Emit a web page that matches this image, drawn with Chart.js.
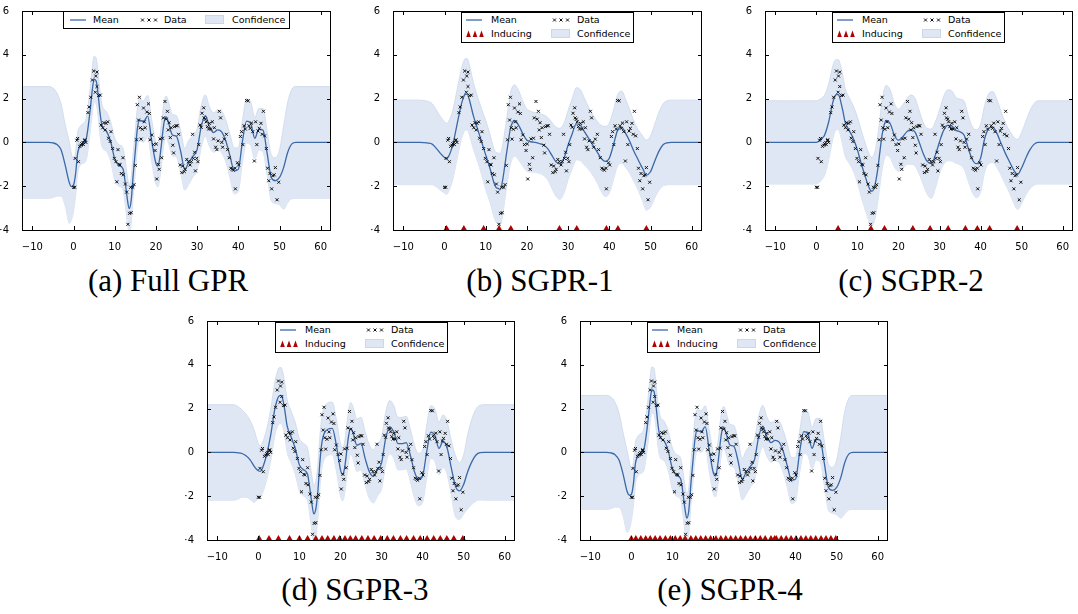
<!DOCTYPE html>
<html>
<head>
<meta charset="utf-8">
<script src="https://cdn.jsdelivr.net/npm/chart.js@4.4.0/dist/chart.umd.min.js"></script>
<style>
body { margin: 0; background: #fff; width: 1078px; height: 614px; position: relative; overflow: hidden; font-family: "DejaVu Sans", sans-serif; }
.panel { position: absolute; }
.legend { position: absolute; box-sizing: border-box; border: 1px solid #000; background: #fff; font-size: 9.5px; color: #000; }
.legend span { position: absolute; line-height: 12px; white-space: nowrap; }
.legend svg { position: absolute; }
.cap { position: absolute; font-family: "Liberation Serif", serif; font-size: 31px; text-align: center; width: 300px; line-height: 34px; color: #000; }
</style>
</head>
<body>
<div class="panel" id="pa" style="left:0px;top:0px"><canvas id="ca" width="336" height="250"></canvas></div>
<div class="panel" id="pb" style="left:371px;top:0px"><canvas id="cb" width="336" height="250"></canvas></div>
<div class="panel" id="pc" style="left:743px;top:0px"><canvas id="cc" width="335" height="250"></canvas></div>
<div class="panel" id="pd" style="left:185px;top:310px"><canvas id="cd" width="335" height="250"></canvas></div>
<div class="panel" id="pe" style="left:558px;top:310px"><canvas id="ce" width="335" height="250"></canvas></div>

<div class="cap" style="left:18px;top:264px">(a) Full GPR</div>
<div class="cap" style="left:390px;top:264px">(b) SGPR-1</div>
<div class="cap" style="left:761px;top:264px">(c) SGPR-2</div>
<div class="cap" style="left:205px;top:573px">(d) SGPR-3</div>
<div class="cap" style="left:580px;top:573px">(e) SGPR-4</div>

<script>
// ticks
const xTicks = [-10, 0, 10, 20, 30, 40, 50, 60]
const yTicks = [-4, -2, 0, 2, 4, 6]

// observed data (same for all panels)
const dataX = [
  0, 0.3, 0.4, 0.8, 1.0, 1.2, 1.5, 1.8, 2.0, 2.3,
  2.4, 2.7, 2.8, 3.0, 3.5, 3.8, 4.2, 4.6, 4.9, 5.3,
  5.4, 5.7, 5.7, 6.1, 6.5, 6.7, 7.1, 7.4, 7.7, 7.9,
  8.3, 8.5, 8.9, 9.1, 9.5, 9.9, 10.3, 10.5, 10.8, 11.1,
  11.3, 11.6, 12.0, 12.1, 12.6, 12.9, 13.2, 13.6, 14.0, 13.9,
  14.4, 14.7, 15.0, 15.3, 15.5, 15.8, 16.0, 16.2, 16.4, 16.7,
  17.0, 17.2, 17.4, 17.8, 18.2, 18.4, 18.6, 19.0, 19.4, 19.8,
  20.1, 20.2, 20.6, 20.8, 21.0, 21.4, 21.6, 21.8, 22.2, 22.5,
  22.8, 23.0, 23.2, 23.5, 23.7, 24.1, 24.3, 24.5, 24.9, 25.2,
  25.5, 25.9, 26.3, 26.5, 26.9, 27.1, 27.5, 27.9, 28.3, 28.6,
  28.9, 29.1, 29.4, 29.6, 29.9, 30.2, 30.4, 30.7, 31.0, 31.2,
  31.6, 31.7, 32.0, 32.2, 32.5, 32.8, 33.0, 33.3, 33.7, 34.0,
  34.2, 34.5, 34.8, 35.1, 35.4, 35.7, 36.0, 36.2, 36.6, 37.1,
  37.4, 37.8, 38.2, 38.5, 38.8, 39.2, 39.3, 39.8, 40.1, 40.5,
  40.8, 41.1, 41.4, 41.7, 42.0, 42.4, 42.6, 42.9, 43.2, 43.5,
  43.9, 44.2, 44.5, 44.8, 45.1, 45.5, 45.8, 46.1, 46.4, 46.8,
  47.1, 47.4, 47.7, 48.1, 48.4, 48.7, 49.0, 49.4, 49.8
]
const dataY = [
  -2.05, -2.05, -0.73, 0.1, 0.18, -0.88, -0.18, -0.13, -0.06, 0.0,
  -0.1, 0.09, 0.12, 0.0, 1.36, 1.62, 2.06, 2.85, 3.26, 2.29,
  3.03, 3.21, 2.55, 2.14, 2.16, 0.79, 0.67, 0.9, 0.57, 0.87,
  0.94, 0.19, 0.04, 0.49, -0.28, -0.73, -0.88, -1.8, -0.33, -1.0,
  -1.03, -1.42, -0.7, -1.48, -1.9, -2.27, -3.74, -3.24, -3.21, -2.05,
  -2.05, -1.93, -1.05, 0.12, 1.72, 1.02, 2.06, 0.67, 0.15, 0.6,
  1.57, 0.94, 0.67, 1.39, 1.76, 1.32, 0.12, 0.34, -0.1, -0.37,
  -0.07, -1.67, -1.0, -1.23, 0.16, -0.7, 0.19, 1.12, 1.87, 1.06,
  1.42, 0.57, 0.9, 0.22, 0.67, -0.13, -0.48, 0.72, 0.76, 0.76,
  0.37, -1.03, -1.38, -1.08, -1.33, -1.23, -0.78, -0.88, -1.03, -0.88,
  0.37, -0.73, -0.45, -1.3, -0.73, -0.88, -0.1, 0.79, 0.69, 1.33,
  1.58, 1.12, 1.06, 0.94, 0.72, 0.61, 0.87, 0.61, 0.94, 0.16,
  0.67, -0.22, -0.33, 0.07, 1.42, 1.12, 0.0, -0.22, 0.15, 0.37,
  -0.33, -0.7, -1.18, -1.23, -1.27, -1.18, -2.12, -0.93, -1.03, 0.27,
  0.49, -0.1, 0.76, 0.61, 1.91, 1.9, 0.76, 0.64, 0.88, 0.49,
  -0.85, 0.94, -0.1, 0.52, 0.64, 0.87, 0.37, 1.42, 0.3, -0.28,
  -1.18, -1.75, -1.42, -2.12, -1.52, -1.48, -1.15, -2.62, -1.82
]

// prediction grid
const gridX = [
  -12.5, -7, -6, -5, -4, -3, -2, -1, -0.5, 0,
  0.5, 1, 1.5, 2, 3, 4, 4.5, 5, 5.5, 6, 6.5, 7,
  8, 9, 10, 11, 12, 12.5, 13, 13.5, 14, 14.5, 15, 15.5, 16,
  17, 18, 19, 20, 20.5, 21, 22, 22.5, 23, 24, 25, 26,
  27, 28, 29, 30, 31, 32, 33, 34, 35, 36, 37, 38, 39, 40,
  41, 42, 43, 44, 45, 46, 47, 48, 49, 50,
  51, 52, 53, 54, 55, 56, 62.5
]

// (a) Full GPR
const meanFull = [
  0, 0, 0, -0.02, -0.1, -0.35, -1.05, -1.85, -2.02, -1.95,
  -1.45, -0.5, -0.2, -0.08, 0.1, 1.4, 2.3, 2.88, 2.8, 2.14, 1.25, 0.72,
  0.5, 0.05, -0.75, -1.05, -1.2, -1.75, -2.5, -3.02, -2.65, -1.45, -0.4, 0.62, 1.02,
  0.95, 1.2, 0.05, -0.95, -1.08, -0.62, 0.94, 1.17, 0.94, 0.34, 0.27, -0.4,
  -1.23, -0.9, -0.63, -0.33, 0.72, 1.22, 0.72, 0.45, 0.57, 0.47, 0.04, -0.63, -1.3, -1.23,
  0.04, 0.97, 0.87, 0.19, 0.6, 0.55, -0.5, -1.6, -1.75, -1.6,
  -1.15, -0.45, -0.07, 0, 0, 0, 0
]
const confFull = [
  2.55, 2.55, 2.55, 2.5, 2.35, 2.1, 1.85, 1.85, 1.5, 1.2,
  1.0, 0.95, 0.9, 0.9, 0.95, 1.0, 1.05, 1.05, 1.05, 1.0, 1.0, 0.95,
  0.9, 0.9, 0.95, 0.95, 0.95, 1.0, 1.05, 1.1, 1.05, 1.0, 0.95, 0.95, 0.95,
  0.95, 0.95, 0.95, 0.95, 0.95, 0.95, 0.95, 0.95, 0.95, 0.95, 0.95, 0.95,
  0.95, 1.0, 0.95, 0.95, 0.95, 0.95, 0.9, 0.9, 0.9, 0.95, 0.95, 1.0, 1.05, 1.0,
  0.95, 1.0, 1.0, 0.95, 0.95, 1.0, 1.0, 1.05, 1.05, 1.25,
  1.9, 2.3, 2.5, 2.55, 2.55, 2.55, 2.55
]

// (b) SGPR-1
const mean1 = [
  0, 0, 0, -0.01, -0.03, -0.08, -0.27, -0.5, -0.6, -0.69,
  -0.75, -0.64, -0.42, -0.12, 0.78, 1.67, 2.0, 2.19, 2.2, 1.97, 1.6, 1.22,
  0.63, 0.03, -0.57, -1.16, -1.84, -2.05, -2.1, -2.15, -1.84, -1.25, -0.57, 0.05, 0.63,
  1.0, 0.78, 0.4, 0.1, 0.06, 0.03, 0, -0.02, -0.05, -0.12, -0.27, -0.57,
  -0.87, -0.98, -0.72, -0.12, 0.4, 0.85, 0.78, 0.48, 0.18, -0.12, -0.42, -0.72, -0.87, -0.72,
  -0.12, 0.55, 0.7, 0.4, 0.03, -0.42, -0.79, -1.16, -1.49, -1.34,
  -0.87, -0.42, -0.12, -0.02, 0, 0, 0
]
const conf1 = [
  1.93, 1.93, 1.93, 1.92, 1.9, 1.85, 1.76, 1.68, 1.65, 1.63,
  1.62, 1.6, 1.59, 1.58, 1.58, 1.6, 1.62, 1.63, 1.63, 1.6, 1.56, 1.52,
  1.48, 1.5, 1.58, 1.55, 1.55, 1.58, 1.62, 1.63, 1.62, 1.58, 1.55, 1.58, 1.62,
  1.63, 1.58, 1.48, 1.42, 1.4, 1.38, 1.36, 1.36, 1.36, 1.38, 1.42, 1.5,
  1.58, 1.62, 1.6, 1.58, 1.6, 1.65, 1.62, 1.52, 1.42, 1.38, 1.4, 1.5, 1.6, 1.6,
  1.58, 1.62, 1.65, 1.55, 1.45, 1.38, 1.38, 1.48, 1.6, 1.62,
  1.68, 1.78, 1.87, 1.92, 1.93, 1.93, 1.93
]
const inducing1 = [0.5, 4.7, 9.5, 13.25, 16.1, 27.9, 32.1, 39.3, 42.1, 49.0]

// (c) SGPR-2
const mean2 = [
  0, 0, 0, 0, 0, 0, 0, 0, 0, 0,
  0.04, 0.1, 0.2, 0.33, 0.93, 1.82, 2.1, 2.19, 2.15, 1.82, 1.4, 0.93,
  0.55, 0.18, -0.34, -1.01, -1.61, -1.9, -2.13, -2.24, -2.13, -1.75, -1.16, -0.4, 0.33,
  1.0, 0.85, 0.33, 0.1, 0.15, 0.25, 0.48, 0.55, 0.58, 0.48, 0.03, -0.49,
  -0.87, -0.97, -0.57, 0.03, 0.55, 0.78, 0.75, 0.55, 0.48, 0.33, -0.27, -0.79, -0.97, -0.72,
  0.18, 0.63, 0.7, 0.4, -0.05, -0.49, -0.87, -1.24, -1.46, -1.16,
  -0.72, -0.34, -0.09, 0, 0, 0, 0
]
const conf2 = [
  1.9, 1.9, 1.9, 1.9, 1.9, 1.9, 1.9, 1.9, 1.9, 1.9,
  1.89, 1.88, 1.86, 1.83, 1.74, 1.66, 1.63, 1.6, 1.6, 1.6, 1.58, 1.55,
  1.5, 1.48, 1.5, 1.52, 1.52, 1.53, 1.55, 1.55, 1.55, 1.54, 1.52, 1.55, 1.58,
  1.6, 1.55, 1.45, 1.42, 1.43, 1.45, 1.5, 1.55, 1.58, 1.55, 1.45, 1.42,
  1.5, 1.58, 1.52, 1.45, 1.55, 1.62, 1.6, 1.5, 1.5, 1.55, 1.5, 1.5, 1.55, 1.55,
  1.52, 1.6, 1.62, 1.55, 1.45, 1.4, 1.42, 1.5, 1.6, 1.62,
  1.68, 1.78, 1.86, 1.9, 1.9, 1.9, 1.9
]
const inducing2 = [5.3, 13.3, 16.6, 23.5, 27.7, 32.1, 36.3, 39.2, 42.2, 48.9]

// (d) SGPR-3
const mean3 = [
  0, 0, 0, -0.02, -0.05, -0.15, -0.34, -0.64, -0.76, -0.84,
  -0.87, -0.72, -0.45, -0.12, 0.78, 1.97, 2.35, 2.57, 2.6, 2.39, 1.85, 1.22,
  0.7, 0.18, -0.57, -0.79, -1.01, -1.61, -2.28, -2.81, -2.58, -1.76, -0.42, 0.48, 0.85,
  1.07, 1.1, 0.33, -0.79, -1.01, -0.72, 0.78, 1.1, 0.93, 0.33, 0.4, -0.27,
  -0.87, -1.09, -0.79, -0.49, 0.63, 1.15, 0.93, 0.4, 0.4, 0.45, -0.12, -0.87, -1.24, -1.09,
  0.03, 0.93, 0.78, 0.18, 0.51, 0.18, -0.72, -1.54, -1.76, -1.46,
  -0.87, -0.42, -0.12, -0.01, 0, 0, 0
]
const conf3 = [
  2.18, 2.18, 2.18, 2.12, 2.0, 1.9, 1.8, 1.65, 1.45, 1.25,
  1.18, 1.15, 1.15, 1.15, 1.18, 1.22, 1.25, 1.28, 1.28, 1.25, 1.22, 1.2,
  1.18, 1.18, 1.2, 1.2, 1.2, 1.22, 1.25, 1.3, 1.28, 1.22, 1.18, 1.18, 1.18,
  1.2, 1.2, 1.18, 1.2, 1.2, 1.18, 1.18, 1.18, 1.18, 1.2, 1.2, 1.22,
  1.22, 1.22, 1.2, 1.18, 1.2, 1.22, 1.2, 1.2, 1.2, 1.2, 1.2, 1.2, 1.2, 1.2,
  1.2, 1.2, 1.2, 1.2, 1.2, 1.2, 1.25, 1.4, 1.3, 1.35,
  1.7, 1.95, 2.1, 2.16, 2.18, 2.18, 2.18
]
const inducing3 = [
  0.2, 2.6, 4.9, 7.6, 10.0, 12.0, 14.0, 15.5, 16.9, 18.4,
  19.8, 21.1, 22.4, 23.7, 25.2, 26.7, 28.2, 29.8, 31.4, 32.9,
  34.6, 36.1, 37.8, 39.4, 41.1, 42.7, 44.3, 45.9, 47.6, 49.8
]

// (e) SGPR-4
const mean4 = [
  0, 0, 0, -0.02, -0.1, -0.35, -1.0, -1.8, -1.95, -1.92,
  -1.45, -0.5, -0.2, -0.08, 0.1, 1.35, 2.25, 2.85, 2.8, 2.15, 1.25, 0.72,
  0.52, 0.06, -0.75, -1.05, -1.2, -1.75, -2.5, -3.0, -2.65, -1.45, -0.4, 0.6, 1.0,
  0.95, 1.18, 0.05, -0.95, -1.08, -0.62, 0.92, 1.15, 0.92, 0.34, 0.27, -0.4,
  -1.22, -0.9, -0.63, -0.33, 0.7, 1.2, 0.72, 0.45, 0.55, 0.47, 0.04, -0.63, -1.28, -1.22,
  0.04, 0.95, 0.85, 0.19, 0.6, 0.55, -0.5, -1.6, -1.73, -1.6,
  -1.15, -0.45, -0.07, 0, 0, 0, 0
]
const conf4 = [
  2.6, 2.6, 2.6, 2.55, 2.4, 2.15, 1.9, 1.85, 1.55, 1.2,
  1.0, 0.95, 0.9, 0.9, 0.95, 1.0, 1.05, 1.05, 1.05, 1.0, 1.0, 0.95,
  0.9, 0.9, 0.95, 0.95, 0.95, 1.0, 1.05, 1.1, 1.05, 1.0, 0.95, 0.95, 0.95,
  0.95, 0.95, 0.95, 0.95, 0.95, 0.95, 0.95, 0.95, 0.95, 0.95, 0.95, 0.95,
  0.95, 1.0, 0.95, 0.95, 0.95, 0.95, 0.9, 0.9, 0.9, 0.95, 0.95, 1.0, 1.05, 1.0,
  0.95, 1.0, 1.0, 0.95, 0.95, 1.0, 1.0, 1.05, 1.05, 1.25,
  1.85, 2.35, 2.55, 2.6, 2.6, 2.6, 2.6
]
const inducing4 = [
  0, 1.1, 2.3, 3.5, 4.6, 5.8, 7.0, 8.3, 9.5, 10.7,
  11.9, 13.1, 14.5, 15.7, 16.9, 18.1, 19.3, 20.6, 21.8, 23.0,
  24.2, 25.4, 26.6, 27.8, 29.0, 30.2, 31.4, 32.6, 34.0, 34.9,
  35.3, 36.5, 37.7, 38.9, 40.1, 41.3, 42.5, 43.7, 44.9, 46.2,
  47.4, 48.6, 49.8
]

const meanColor = '#3a68a8'
const bandFill = 'rgb(222,231,243)'
const bandEdge = 'rgb(203,216,235)'
const indColor = '#b00000'

const minus = v => String(v).replace('-', '\u2212')

// frame + inward ticks on all four sides (matplotlib classic look)
const framePlugin = {
  id: 'frame',
  afterDraw(chart) {
    const { ctx, chartArea: a, scales } = chart
    ctx.save()
    ctx.strokeStyle = '#000'
    ctx.lineWidth = 1
    ctx.beginPath()
    scales.x.ticks.forEach(t => {
      const px = Math.round(scales.x.getPixelForValue(t.value)) + 0.5
      ctx.moveTo(px, a.bottom); ctx.lineTo(px, a.bottom - 4)
      ctx.moveTo(px, a.top); ctx.lineTo(px, a.top + 4)
    })
    scales.y.ticks.forEach(t => {
      const py = Math.round(scales.y.getPixelForValue(t.value)) + 0.5
      ctx.moveTo(a.left, py); ctx.lineTo(a.left + 4, py)
      ctx.moveTo(a.right, py); ctx.lineTo(a.right - 4, py)
    })
    ctx.stroke()
    ctx.strokeRect(Math.round(a.left) + 0.5, Math.round(a.top) + 0.5,
      Math.round(a.right - a.left) - 1, Math.round(a.bottom - a.top))
    ctx.restore()
  }
}

function makeChart(canvasId, mean, conf, inducing) {
  const pts = dataX.map((x, i) => ({ x: x, y: dataY[i] }))
  const datasets = [
    { label: 'upper', data: gridX.map((x, i) => ({ x: x, y: mean[i] + conf[i] })),
      borderColor: bandEdge, borderWidth: 0.8, backgroundColor: bandFill, fill: '+1',
      pointRadius: 0, cubicInterpolationMode: 'monotone', order: 4 },
    { label: 'lower', data: gridX.map((x, i) => ({ x: x, y: mean[i] - conf[i] })),
      borderColor: bandEdge, borderWidth: 0.8, fill: false,
      pointRadius: 0, cubicInterpolationMode: 'monotone', order: 5 },
    { label: 'Mean', data: gridX.map((x, i) => ({ x: x, y: mean[i] })),
      borderColor: meanColor, borderWidth: 1.3, fill: false,
      pointRadius: 0, cubicInterpolationMode: 'monotone', order: 3 },
    { label: 'Data', data: pts, showLine: false, pointStyle: 'crossRot',
      pointRadius: 2.1, borderColor: '#111', borderWidth: 1, order: 2 }
  ]
  if (inducing) {
    datasets.push({ label: 'Inducing', data: inducing.map(x => ({ x: x, y: -4 })),
      showLine: false, pointStyle: 'triangle', pointRadius: 5,
      backgroundColor: indColor, borderColor: indColor, borderWidth: 0, order: 1 })
  }
  const tickFont = { family: 'DejaVu Sans', size: 10 }
  return new Chart(document.getElementById(canvasId), {
    type: 'line',
    data: { datasets: datasets },
    options: {
      responsive: false,
      animation: false,
      devicePixelRatio: 1,
      layout: { padding: { top: 7, right: 5, left: 0, bottom: 0 } },
      plugins: { legend: { display: false }, tooltip: { enabled: false } },
      scales: {
        x: {
          type: 'linear', min: -12.5, max: 62.5,
          grid: { display: false }, border: { display: false },
          afterBuildTicks: s => { s.ticks = xTicks.map(v => ({ value: v })) },
          afterFit: s => { s.height = 20 },
          ticks: { padding: 3, color: '#000', font: tickFont, maxRotation: 0, autoSkip: false, callback: v => minus(v) }
        },
        y: {
          type: 'linear', min: -4, max: 6,
          grid: { display: false }, border: { display: false },
          afterBuildTicks: s => { s.ticks = yTicks.map(v => ({ value: v })) },
          afterFit: s => { s.width = 22 },
          ticks: { padding: 5, color: '#000', font: tickFont, callback: v => minus(v) }
        }
      }
    },
    plugins: [framePlugin]
  })
}

// legend icons
const svgLine = '<svg width="16" height="4"><line x1="0" y1="2" x2="16" y2="2" stroke="' + meanColor + '" stroke-width="1.3"/></svg>'
function svgCrosses() {
  let s = '<svg width="18" height="6">'
  ;[2.5, 9, 15.5].forEach(cx => {
    s += '<path d="M' + (cx - 1.5) + ' 1.5 L' + (cx + 1.5) + ' 4.5 M' + (cx + 1.5) + ' 1.5 L' + (cx - 1.5) + ' 4.5" stroke="#111" stroke-width="1"/>'
  })
  return s + '</svg>'
}
function svgTriangles() {
  let s = '<svg width="18" height="7">'
  ;[2.5, 9, 15.5].forEach(cx => {
    s += '<path d="M' + cx + ' 0.5 L' + (cx + 2.3) + ' 7 L' + (cx - 2.3) + ' 7 Z" fill="' + indColor + '"/>'
  })
  return s + '</svg>'
}
const svgPatch = '<svg width="19" height="9"><rect x="0.5" y="0.5" width="18" height="8" fill="' + bandFill + '" stroke="' + bandEdge + '"/></svg>'

function legendFull(panelId) {
  const box = document.createElement('div')
  box.className = 'legend'
  box.style.cssText = 'left:63px;top:11px;width:227px;height:18px'
  box.innerHTML =
    '<div style="position:absolute;left:6px;top:6px">' + svgLine + '</div>' +
    '<span style="left:29px;top:2px">Mean</span>' +
    '<div style="position:absolute;left:76px;top:5px">' + svgCrosses() + '</div>' +
    '<span style="left:100px;top:2px">Data</span>' +
    '<div style="position:absolute;left:141px;top:3px">' + svgPatch + '</div>' +
    '<span style="left:168px;top:2px">Confidence</span>'
  document.getElementById(panelId).appendChild(box)
}

function legendSparse(panelId, left) {
  const box = document.createElement('div')
  box.className = 'legend'
  box.style.cssText = 'left:' + left + 'px;top:12px;width:173px;height:31px'
  box.innerHTML =
    '<div style="position:absolute;left:4px;top:5px">' + svgLine + '</div>' +
    '<span style="left:29px;top:1px">Mean</span>' +
    '<div style="position:absolute;left:90px;top:4px">' + svgCrosses() + '</div>' +
    '<span style="left:115px;top:1px">Data</span>' +
    '<div style="position:absolute;left:4px;top:17px">' + svgTriangles() + '</div>' +
    '<span style="left:29px;top:15px">Inducing</span>' +
    '<div style="position:absolute;left:89px;top:16px">' + svgPatch + '</div>' +
    '<span style="left:115px;top:15px">Confidence</span>'
  document.getElementById(panelId).appendChild(box)
}

makeChart('ca', meanFull, confFull, null)
makeChart('cb', mean1, conf1, inducing1)
makeChart('cc', mean2, conf2, inducing2)
makeChart('cd', mean3, conf3, inducing3)
makeChart('ce', mean4, conf4, inducing4)

legendFull('pa')
legendSparse('pb', 90)
legendSparse('pc', 89)
legendSparse('pd', 90)
legendSparse('pe', 89)
</script>
</body>
</html>
